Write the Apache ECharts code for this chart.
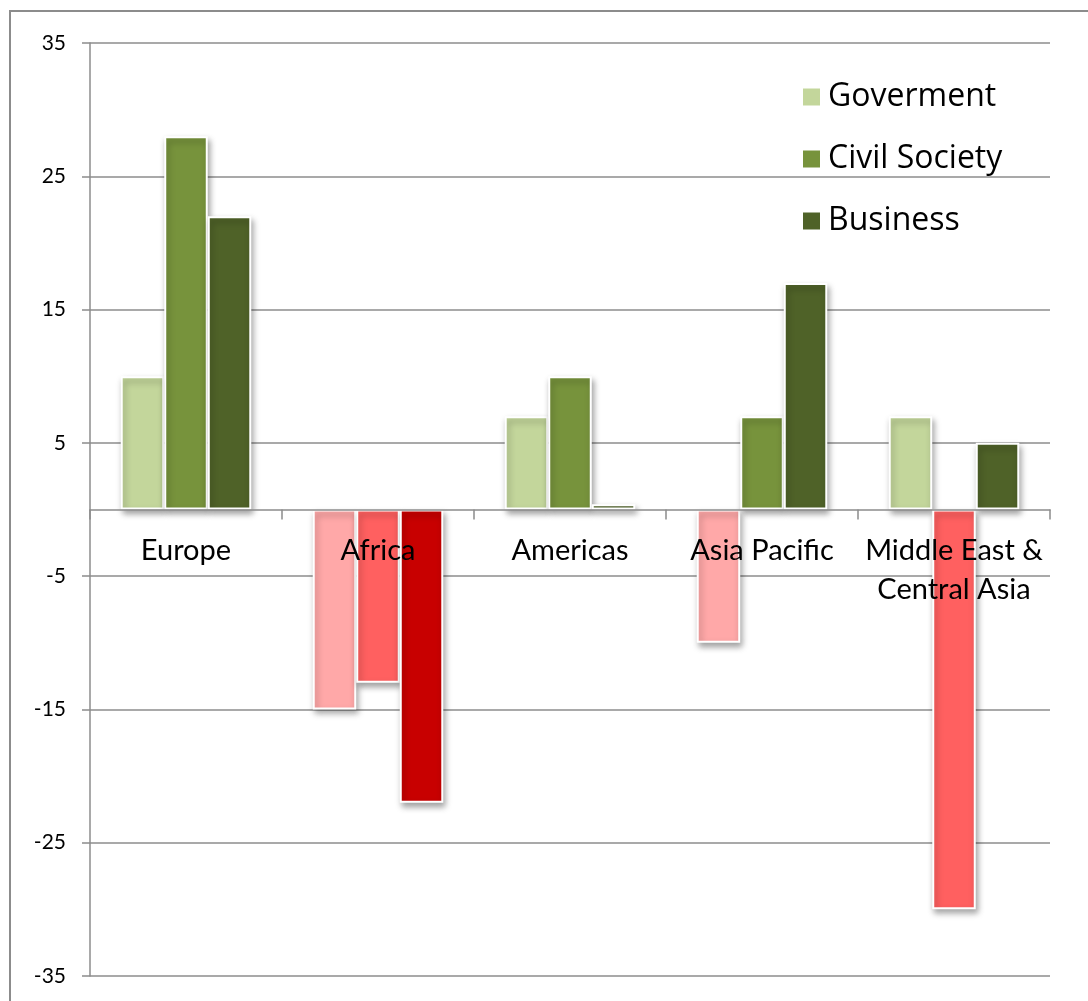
<!DOCTYPE html>
<html>
<head>
<meta charset="utf-8">
<script src="https://cdn.jsdelivr.net/npm/echarts@6/dist/echarts.min.js"></script>
<style>
  html, body { margin: 0; padding: 0; background: #fff; }
  #chart { width: 1088px; height: 1001px; }
</style>
</head>
<body>
<div id="chart"></div>
<script>
// Regions on the category axis
const categories = ['Europe', 'Africa', 'Americas', 'Asia Pacific', 'Middle East &\nCentral Asia'];

// Net change per sector and region
const government   = [10, -15, 7, -10, 7];
const civilSociety = [28, -13, 10, 7, -30];
const business     = [22, -22, 0.4, 17, 5];

// Value axis range and step
const yMin = -35;
const yMax = 35;
const yStep = 10;

const seriesNames = ['Goverment', 'Civil Society', 'Business'];
const positiveColors = ['#c3d69b', '#77933c', '#4f6228'];
const negativeColors = ['#ffa8a8', '#ff6060', '#c80000'];

const FONT = 'Lato, "Open Sans", sans-serif';
const LEGEND_FONT = '"Open Sans", Lato, sans-serif';

// Plot box inside the canvas
const GRID = { left: 90, right: 38, top: 43, bottom: 25 };
const CHART_H = 1001;

const barStyle = {
  borderColor: '#ffffff',
  borderWidth: 2,
  shadowBlur: 6,
  shadowOffsetX: 2,
  shadowOffsetY: 4,
  shadowColor: 'rgba(0,0,0,0.35)'
};

function buildSeries(name, values, idx) {
  return {
    name: name,
    type: 'bar',
    barGap: '0%',
    barCategoryGap: '32%',
    itemStyle: Object.assign({ color: positiveColors[idx] }, barStyle),
    data: values.map(v => ({
      value: v,
      itemStyle: { color: v < 0 ? negativeColors[idx] : positiveColors[idx] }
    }))
  };
}

// The category axis sits on the zero line: shift it up from the grid bottom
const plotH = CHART_H - GRID.top - GRID.bottom;
const zeroFromBottom = plotH * (0 - yMin) / (yMax - yMin);

const chart = echarts.init(document.getElementById('chart'));
chart.setOption({
  animation: false,
  backgroundColor: '#ffffff',
  textStyle: { fontFamily: FONT },
  graphic: [{
    type: 'rect',
    silent: true,
    z: -10,
    shape: { x: 10, y: 11, width: 1300, height: 1300 },
    style: { fill: 'none', stroke: '#8c8c8c', lineWidth: 2 }
  }],
  grid: Object.assign({ containLabel: false, outerBoundsMode: 'none' }, GRID),
  legend: {
    orient: 'vertical',
    left: 796,
    top: 76,
    icon: 'rect',
    itemWidth: 19,
    itemHeight: 19,
    itemGap: 30,
    data: seriesNames,
    textStyle: { fontFamily: LEGEND_FONT, fontSize: 32, color: '#000', padding: [0, 0, 0, 2] }
  },
  xAxis: {
    type: 'category',
    data: categories,
    z: 5,
    position: 'bottom',
    offset: -zeroFromBottom,
    axisLine: { onZero: false, lineStyle: { color: '#8c8c8c', width: 1.5 } },
    axisTick: { show: true, length: 10, alignWithLabel: false, lineStyle: { color: '#8c8c8c', width: 1.5 } },
    axisLabel: {
      interval: 0,
      margin: 22,
      fontFamily: FONT,
      fontSize: 29,
      lineHeight: 39,
      color: '#000'
    },
    splitLine: { show: false }
  },
  yAxis: {
    type: 'value',
    min: yMin,
    max: yMax,
    interval: yStep,
    axisLine: { show: true, lineStyle: { color: '#8c8c8c', width: 1.5 } },
    axisTick: { show: true, length: 8, lineStyle: { color: '#8c8c8c', width: 1.5 } },
    axisLabel: { margin: 24, fontFamily: FONT, fontSize: 21, color: '#000' },
    splitLine: { show: true, lineStyle: { color: '#8c8c8c', width: 1.5 } }
  },
  series: [
    buildSeries(seriesNames[0], government, 0),
    buildSeries(seriesNames[1], civilSociety, 1),
    buildSeries(seriesNames[2], business, 2)
  ]
});
</script>
</body>
</html>
